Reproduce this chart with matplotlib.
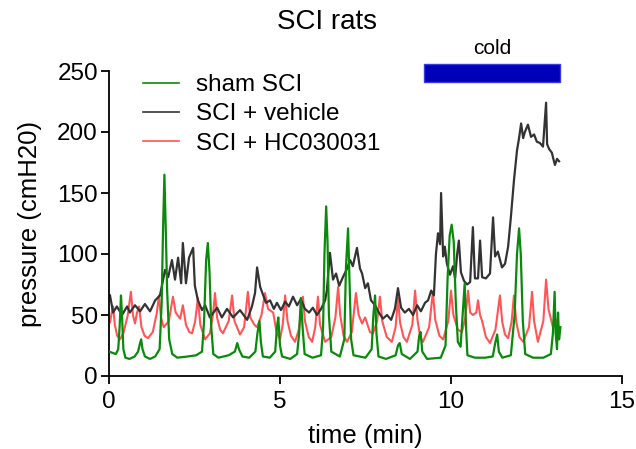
import matplotlib
matplotlib.use("Agg")
import matplotlib.pyplot as plt
from matplotlib.patches import Rectangle

plt.rcParams['font.family'] = ['Liberation Sans', 'DejaVu Sans']

# sham SCI (green)
sham_t = [0.00, 0.10, 0.20, 0.27, 0.31, 0.35, 0.38, 0.42, 0.48, 0.60,
          0.75, 0.85, 0.90, 0.94, 0.98, 1.05, 1.20, 1.35, 1.48, 1.54,
          1.58, 1.62, 1.66, 1.70, 1.76, 1.85, 2.00, 2.30, 2.55, 2.72,
          2.78, 2.84, 2.89, 2.94, 2.99, 3.05, 3.20, 3.50, 3.68, 3.75,
          3.80, 3.90, 4.10, 4.28, 4.34, 4.40, 4.44, 4.50, 4.70, 4.86,
          4.91, 4.95, 5.00, 5.06, 5.30, 5.50, 5.56, 5.61, 5.66, 5.72,
          5.95, 6.20, 6.26, 6.30, 6.35, 6.39, 6.43, 6.50, 6.75, 6.88,
          6.93, 6.99, 7.03, 7.08, 7.15, 7.50, 7.68, 7.73, 7.78, 7.82,
          7.88, 8.10, 8.38, 8.45, 8.50, 8.56, 8.80, 9.02, 9.07, 9.11,
          9.16, 9.30, 9.70, 9.84, 9.90, 9.96, 10.02, 10.08, 10.14, 10.20,
          10.28, 10.34, 10.40, 10.44, 10.48, 10.70, 11.00, 11.22, 11.30, 11.35,
          11.40, 11.50, 11.75, 11.86, 11.93, 11.99, 12.04, 12.10, 12.17, 12.40,
          12.70, 12.92, 12.98, 13.03, 13.06, 13.10, 13.13, 13.16, 13.20]
sham_v = [20, 19, 18, 22, 40, 66, 50, 22, 15, 14,
          16, 20, 26, 30, 22, 16, 14, 16, 22, 60,
          120, 165, 120, 70, 30, 18, 15, 16, 17, 20,
          45, 95, 109, 85, 40, 18, 15, 17, 20, 27,
          22, 16, 15, 20, 35, 45, 28, 16, 15, 20,
          40, 48, 25, 16, 14, 18, 35, 64, 40, 18,
          15, 17, 40, 100, 139, 110, 50, 20, 16, 30,
          90, 121, 80, 30, 17, 15, 22, 50, 66, 35,
          16, 14, 17, 25, 27, 18, 14, 20, 33, 36,
          20, 14, 15, 25, 80, 115, 124, 110, 60, 28,
          24, 50, 76, 40, 17, 15, 15, 16, 28, 34,
          20, 15, 17, 50, 100, 121, 100, 45, 18, 15,
          15, 18, 35, 69, 35, 22, 52, 30, 40]

# SCI + vehicle (black)
veh_t = [0.03, 0.12, 0.23, 0.38, 0.53, 0.61, 0.76, 0.91, 1.05, 1.20,
         1.35, 1.49, 1.64, 1.73, 1.84, 1.93, 2.02, 2.11, 2.16, 2.25,
         2.34, 2.46, 2.51, 2.60, 2.72, 2.81, 2.95, 3.16, 3.30, 3.45,
         3.63, 3.83, 4.04, 4.18, 4.27, 4.33, 4.42, 4.50, 4.59, 4.71,
         4.82, 4.91, 5.03, 5.15, 5.26, 5.38, 5.50, 5.61, 5.73, 5.85,
         5.96, 6.08, 6.20, 6.32, 6.37, 6.46, 6.55, 6.64, 6.73, 6.84,
         6.96, 7.05, 7.13, 7.25, 7.34, 7.40, 7.49, 7.57, 7.66, 7.78,
         7.89, 8.01, 8.13, 8.25, 8.36, 8.45, 8.54, 8.65, 8.77, 8.89,
         9.01, 9.12, 9.24, 9.33, 9.42, 9.50, 9.56, 9.62, 9.68, 9.71,
         9.77, 9.82, 9.88, 9.97, 10.06, 10.12, 10.18, 10.23, 10.29, 10.38,
         10.47, 10.56, 10.64, 10.70, 10.79, 10.85, 10.91, 11.02, 11.14, 11.23,
         11.29, 11.37, 11.49, 11.58, 11.67, 11.75, 11.84, 11.93, 11.99, 12.05,
         12.11, 12.16, 12.25, 12.34, 12.43, 12.51, 12.60, 12.69, 12.78, 12.81,
         12.87, 12.95, 13.01, 13.04, 13.10, 13.16]
veh_v = [66, 52, 57, 50, 57, 52, 58, 53, 59, 53,
         62, 66, 87, 81, 95, 79, 97, 76, 109, 76,
         97, 105, 74, 62, 54, 58, 48, 56, 48, 55,
         48, 54, 46, 57, 68, 89, 73, 67, 60, 62,
         55, 60, 54, 61, 57, 65, 58, 63, 55, 52,
         56, 50, 55, 62, 70, 101, 79, 84, 74, 81,
         88, 95, 90, 105, 88, 84, 72, 76, 62, 58,
         52, 47, 50, 46, 55, 72, 56, 52, 55, 50,
         58, 53, 60, 62, 70, 66, 100, 117, 108, 150,
         98, 106, 92, 83, 90, 80, 100, 111, 85, 78,
         75, 77, 122, 80, 80, 111, 81, 80, 84, 130,
         98, 102, 89, 92, 106, 130, 160, 185, 195, 207,
         195, 200, 206, 196, 198, 192, 191, 188, 224, 190,
         186, 183, 176, 173, 178, 176]

# SCI + HC030031 (red)
hc_t = [0.03, 0.08, 0.12, 0.17, 0.24, 0.32, 0.42, 0.55, 0.64, 0.70,
        0.76, 0.82, 0.88, 0.95, 1.04, 1.14, 1.28, 1.40, 1.46, 1.52,
        1.60, 1.75, 1.87, 1.95, 2.08, 2.16, 2.25, 2.35, 2.43, 2.52,
        2.60, 2.67, 2.81, 2.95, 3.04, 3.10, 3.16, 3.25, 3.33, 3.50,
        3.60, 3.67, 3.83, 3.95, 4.06, 4.13, 4.25, 4.33, 4.46, 4.56,
        4.65, 4.80, 4.90, 5.00, 5.08, 5.15, 5.22, 5.32, 5.44, 5.55,
        5.67, 5.73, 5.84, 5.94, 6.03, 6.11, 6.17, 6.32, 6.50, 6.62,
        6.70, 6.76, 6.86, 6.96, 7.10, 7.22, 7.30, 7.40, 7.49, 7.63,
        7.72, 7.84, 7.92, 7.99, 8.12, 8.27, 8.38, 8.45, 8.51, 8.61,
        8.71, 8.87, 8.95, 9.02, 9.10, 9.18, 9.36, 9.47, 9.54, 9.66,
        9.77, 9.92, 10.00, 10.07, 10.20, 10.32, 10.42, 10.50, 10.56, 10.64,
        10.74, 10.79, 10.85, 10.91, 11.02, 11.14, 11.30, 11.43, 11.50, 11.58,
        11.67, 11.77, 11.84, 11.91, 12.00, 12.11, 12.28, 12.37, 12.43, 12.54,
        12.70, 12.78, 12.85, 12.98, 13.04, 13.10]
hc_v = [44, 52, 57, 42, 33, 30, 35, 50, 69, 50,
        43, 52, 57, 40, 33, 31, 36, 52, 66, 48,
        40, 45, 65, 52, 47, 58, 42, 36, 35, 45,
        64, 42, 30, 35, 50, 68, 48, 38, 35, 45,
        66, 45, 34, 40, 69, 48, 42, 40, 50, 68,
        55, 52, 36, 30, 42, 66, 45, 33, 28, 38,
        65, 45, 32, 28, 40, 65, 42, 28, 32, 48,
        73, 50, 33, 28, 36, 68, 50, 43, 48, 36,
        35, 45, 65, 45, 32, 28, 40, 64, 44, 32,
        28, 42, 70, 46, 32, 28, 40, 69, 46, 33,
        30, 45, 70, 50, 38, 36, 48, 70, 52, 50,
        52, 62, 50, 45, 32, 27, 38, 66, 44, 34,
        31, 44, 66, 44, 32, 28, 40, 69, 45, 28,
        45, 79, 55, 40, 48, 44]

series_labels = ['sham SCI', 'SCI + vehicle', 'SCI + HC030031']
cold_start, cold_end = 9.2, 13.2
xticks = [0, 5, 10, 15]
yticks = [0, 50, 100, 150, 200, 250]

fig = plt.figure(figsize=(6.36, 4.49), dpi=100)
ax = fig.add_axes([109/636, 1-376/449, (622-109)/636, (376-71)/449])

ax.plot(sham_t, sham_v, color='#0a8a0a', lw=1.6, label=series_labels[0], zorder=3)
ax.plot(veh_t, veh_v, color='#333333', lw=1.6, label=series_labels[1], zorder=2)
ax.plot(hc_t, hc_v, color='#ff5555', lw=1.5, label=series_labels[2], zorder=1)

ax.set_xlim(0, 15)
ax.set_ylim(0, 250)
ax.set_xticks(xticks)
ax.set_yticks(yticks)
ax.spines['top'].set_visible(False)
ax.spines['right'].set_visible(False)
ax.spines['left'].set_linewidth(1.3)
ax.spines['bottom'].set_linewidth(1.3)
ax.tick_params(direction='out', length=6, width=1.3, labelsize=17.5)
ax.tick_params(axis='x', pad=5)
ax.tick_params(axis='y', pad=2)
ax.set_xlabel('time (min)', fontsize=18.5, labelpad=8)
ax.set_ylabel('pressure (cmH20)', fontsize=18.5, labelpad=11)

leg = ax.legend(loc='upper left', bbox_to_anchor=(0.066, 0.99), frameon=False, fontsize=17.5,
                handlelength=1.5, handletextpad=0.7, labelspacing=0.3, borderpad=0,
                borderaxespad=0)
for h in leg.get_lines():
    h.set_linewidth(1.2)

rect = Rectangle((cold_start, 241), cold_end - cold_start, 15, facecolor='#0000b8',
                 edgecolor='#3a3ad8', lw=1, clip_on=False, zorder=4)
ax.add_patch(rect)
ax.text((cold_start + cold_end) / 2, 261, 'cold', ha='center', va='bottom', fontsize=15)

fig.text(0.514, 1-22/449, 'SCI rats', ha='center', va='center', fontsize=20)

fig.savefig('out.png', dpi=100)
